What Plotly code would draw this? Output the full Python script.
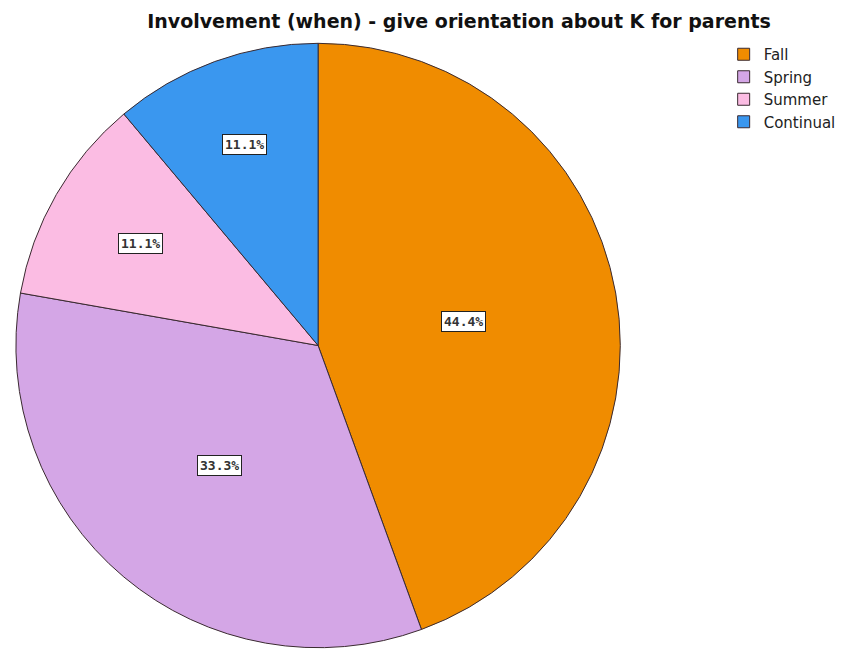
import math
import plotly.graph_objects as go

# Survey responses: when orientation about K is given to parents
categories = ["Fall", "Spring", "Summer", "Continual"]
counts = [4, 3, 1, 1]
colors = ["#F08C00", "#D4A6E6", "#FBBCE3", "#3A97EF"]

# radial position of each percentage label, as a fraction of the pie radius
label_radius = [0.49, 0.51, 0.68, 0.71]

W, H = 841, 650
cx, r_px = 320, 304
top_px = 41
cy = top_px + r_px + 2

fig = go.Figure(
    go.Pie(
        labels=categories,
        values=counts,
        sort=False,
        direction="clockwise",
        rotation=0,
        marker=dict(colors=colors, line=dict(color="#3a2a30", width=1)),
        textinfo="none",
        hoverinfo="label+percent",
        domain=dict(
            x=[(cx - r_px) / W, (cx + r_px) / W],
            y=[0, 1 - top_px / H],
        ),
    )
)

# percentage labels in boxed tags, placed at the middle angle of each slice
total = sum(counts)
cum = 0
for val, rf in zip(counts, label_radius):
    mid = (cum + val / 2) / total * 2 * math.pi
    cum += val
    px = cx + rf * r_px * math.sin(mid)
    py = cy - rf * r_px * math.cos(mid)
    fig.add_annotation(
        x=px / W,
        y=1 - py / H,
        xref="paper",
        yref="paper",
        xanchor="center",
        yanchor="middle",
        text=f"<b>{val / total * 100:.1f}%</b>",
        showarrow=False,
        font=dict(family="DejaVu Sans Mono", size=13, color="#333333"),
        bgcolor="white",
        bordercolor="#222222",
        borderwidth=1,
        borderpad=2,
    )

fig.update_layout(
    width=W,
    height=H,
    margin=dict(l=0, r=0, t=0, b=0),
    paper_bgcolor="white",
    plot_bgcolor="white",
    title=dict(
        text="<b>Involvement (when) - give orientation about K for parents</b>",
        x=459 / W,
        xanchor="center",
        y=1 - 21 / H,
        yanchor="middle",
        font=dict(family="DejaVu Sans", size=19, color="#111111"),
    ),
    legend=dict(
        x=728 / W,
        y=1 - 38 / H,
        xanchor="left",
        yanchor="top",
        font=dict(family="DejaVu Sans", size=15, color="#222222"),
        bgcolor="rgba(0,0,0,0)",
        itemwidth=30,
        tracegroupgap=0,
    ),
    showlegend=True,
)

fig.write_html("out.html")
